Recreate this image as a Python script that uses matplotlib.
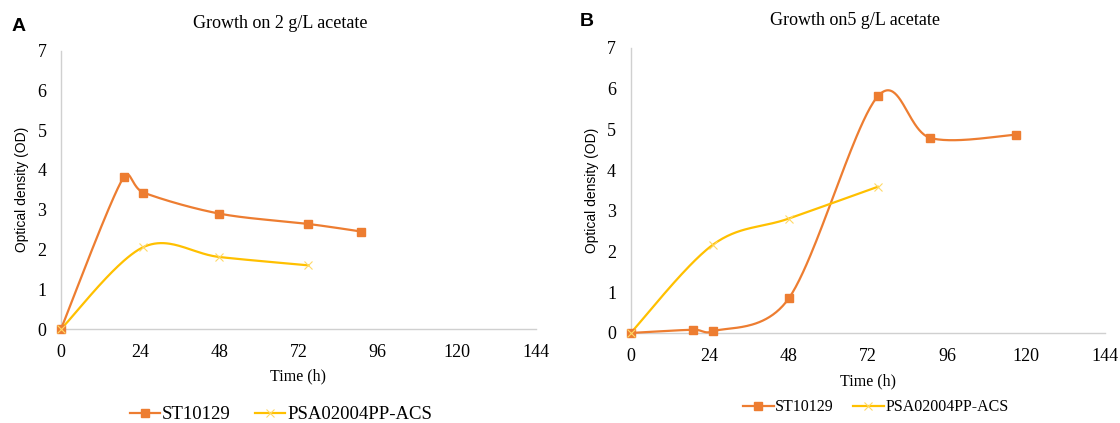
import numpy as np
import matplotlib
matplotlib.use("Agg")
import matplotlib.pyplot as plt

# growth curves, OD readings over time (h)
time_a_st = [0, 19, 25, 48, 75, 91]
od_a_st = [0, 3.82, 3.43, 2.90, 2.64, 2.45]
time_a_psa = [0, 25, 48, 75]
od_a_psa = [0, 2.06, 1.81, 1.60]

time_b_st = [0, 19, 25, 48, 75, 91, 117]
od_b_st = [0, 0.08, 0.04, 0.85, 5.81, 4.79, 4.87]
time_b_psa = [0, 25, 48, 75]
od_b_psa = [0, 2.17, 2.81, 3.59]

x_ticks = [0, 24, 48, 72, 96, 120, 144]
y_ticks = [0, 1, 2, 3, 4, 5, 6, 7]

ORANGE = "#ED7D31"
YELLOW = "#FFC000"
SERIF = "Liberation Serif"
SANS = "Liberation Sans"


def smooth(x, y, sx=3.3, sy=40.0, n=50):
    # smoothed line: catmull-rom style bezier worked out in screen units,
    # handle length capped at half of the segment so short steps don't loop
    p = np.column_stack([np.asarray(x) * sx, np.asarray(y) * sy]).astype(float)
    m = len(p)
    tang = np.array([p[min(i + 1, m - 1)] - p[max(i - 1, 0)] for i in range(m)]) / 6
    out = [p[0]]
    for i in range(m - 1):
        p1, p2 = p[i], p[i + 1]
        cap = np.linalg.norm(p2 - p1) * 0.5
        h1, h2 = tang[i], tang[i + 1]
        n1, n2 = np.linalg.norm(h1), np.linalg.norm(h2)
        if n1 > cap:
            h1 = h1 * cap / n1
        if n2 > cap:
            h2 = h2 * cap / n2
        c1 = p1 + h1
        c2 = p2 - h2
        t = np.linspace(0, 1, n)[1:, None]
        seg = ((1 - t) ** 3) * p1 + 3 * ((1 - t) ** 2) * t * c1 \
            + 3 * (1 - t) * t ** 2 * c2 + t ** 3 * p2
        out.extend(seg)
    out = np.array(out)
    return out[:, 0] / sx, out[:, 1] / sy


def draw(ax, ts, ods, tp, odp):
    sx, sy = smooth(ts, ods)
    ax.plot(sx, sy, color=ORANGE, lw=1.6, zorder=3, clip_on=False)
    ax.plot(ts, ods, ls="none", marker="s", ms=5.5, color=ORANGE, zorder=4, clip_on=False)
    px, py = smooth(tp, odp)
    ax.plot(px, py, color=YELLOW, lw=1.6, zorder=3, clip_on=False)
    ax.plot(tp, odp, ls="none", marker="x", ms=6, mew=0.8, color="#FFD966", zorder=4,
            clip_on=False)
    ax.set_xlim(0, 144)
    ax.set_ylim(0, 7)
    ax.set_xticks(x_ticks)
    ax.set_yticks(y_ticks)
    ax.tick_params(axis="x", length=0, labelsize=13, pad=11)
    ax.tick_params(axis="y", length=0, labelsize=13, pad=10.5)
    for lab in ax.get_xticklabels() + ax.get_yticklabels():
        lab.set_fontfamily(SERIF)
    for s in ["top", "right"]:
        ax.spines[s].set_visible(False)
    for s in ["left", "bottom"]:
        ax.spines[s].set_color("#D0D0D0")
        ax.spines[s].set_linewidth(1)
    ax.set_ylabel("Optical density (OD)", fontfamily=SANS, fontsize=10, labelpad=6)


fig = plt.figure(figsize=(11.2, 4.23), dpi=100)
ax1 = fig.add_axes([0.05446, 0.2222, 0.4241, 0.6584])
ax2 = fig.add_axes([0.5631, 0.2128, 0.4235, 0.6738])

draw(ax1, time_a_st, od_a_st, time_a_psa, od_a_psa)
draw(ax2, time_b_st, od_b_st, time_b_psa, od_b_psa)
ax1.set_xlabel("Time (h)", fontfamily=SERIF, fontsize=11.5, labelpad=5)
ax2.set_xlabel("Time (h)", fontfamily=SERIF, fontsize=11.5, labelpad=6)

fig.text(0.25, 0.945, "Growth on 2 g/L acetate", ha="center", va="center",
         fontfamily=SERIF, fontsize=13)
fig.text(0.763, 0.952, "Growth on5 g/L acetate", ha="center", va="center",
         fontfamily=SERIF, fontsize=13)
fig.text(0.0165, 0.937, "A", fontfamily=SANS, fontweight="bold", fontsize=14,
         ha="center", va="center")
fig.text(0.524, 0.949, "B", fontfamily=SANS, fontweight="bold", fontsize=14,
         ha="center", va="center")

handles = [
    plt.Line2D([], [], color=ORANGE, lw=1.6, marker="s", ms=5.5),
    plt.Line2D([], [], color=YELLOW, lw=1.6, marker="x", ms=6, mew=0.8, mec="#FFD966"),
]
names = ["ST10129", "PSA02004PP-ACS"]
fig.legend(handles, names, loc="center", bbox_to_anchor=(0.251, 0.02), ncol=2,
           frameon=False, prop={"family": SERIF, "size": 13.5}, handlelength=1.6,
           handletextpad=0.1, columnspacing=1.3)
fig.legend(handles, names, loc="center", bbox_to_anchor=(0.782, 0.037), ncol=2,
           frameon=False, prop={"family": SERIF, "size": 11.5}, handlelength=1.9,
           handletextpad=0.1, columnspacing=1.2)

fig.savefig("out.png", dpi=100, facecolor="white")
